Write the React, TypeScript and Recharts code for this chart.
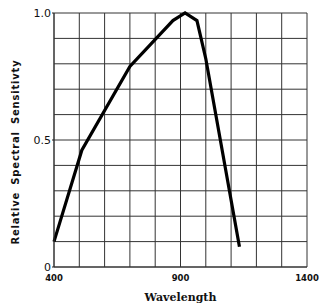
import { LineChart, Line, XAxis, YAxis, CartesianGrid, Label } from 'recharts'

const wavelength = [400, 510, 700, 870, 918, 965, 1000, 1133]
const sensitivity = [0.1, 0.46, 0.79, 0.97, 1.0, 0.97, 0.82, 0.08]

const xTicks = [400, 500, 600, 700, 800, 900, 1000, 1100, 1200, 1300, 1400]
const xTickLabels = ['400', '900', '1400']
const yTicks = [0, 0.1, 0.2, 0.3, 0.4, 0.5, 0.6, 0.7, 0.8, 0.9, 1.0]
const yTickLabels = ['0', '0.5', '1.0']

const data = wavelength.map((w, i) => ({ wavelength: w, value: sensitivity[i] }))

function fmtY(v: number): string {
  if (v === 0) return '0'
  return v.toFixed(1)
}

function YTick(props: any) {
  const { x, y, payload } = props
  const label = fmtY(payload.value)
  if (!yTickLabels.includes(label)) return <g />
  return (
    <g>
      <line x1={x + 1} x2={x + 3} y1={y} y2={y} stroke="#222" />
      <text
        x={x}
        y={y}
        dy="0.36em"
        textAnchor="end"
        fontSize={11}
        fontFamily="DejaVu Sans"
        fill="#111"
      >
        {label}
      </text>
    </g>
  )
}

export default function App() {
  return (
    <div style={{ position: 'absolute', left: 0, top: 0, background: '#fff' }}>
      <LineChart
        width={319}
        height={307}
        data={data}
        margin={{ top: 13, right: 12, bottom: 0, left: 0 }}
      >
        <CartesianGrid stroke="#333" strokeWidth={1} />
        <XAxis
          dataKey="wavelength"
          type="number"
          domain={[400, 1400]}
          ticks={xTicks}
          interval={0}
          height={40}
          tickLine={false}
          tickSize={0}
          tickMargin={8}
          axisLine={{ stroke: '#333' }}
          tickFormatter={(v) => (xTickLabels.includes(String(v)) ? String(v) : '')}
          tick={{ fontSize: 8.5, fontWeight: 'bold', fontFamily: 'DejaVu Sans', fill: '#111' }}
        >
          <Label
            value="Wavelength"
            position="insideBottom"
            offset={6}
            style={{ fontSize: 11, fontWeight: 'bold', fontFamily: 'DejaVu Serif', fill: '#111' }}
          />
        </XAxis>
        <YAxis
          type="number"
          domain={[0, 1]}
          ticks={yTicks}
          interval={0}
          width={54}
          tickLine={false}
          tickSize={2}
          tickMargin={1}
          axisLine={{ stroke: '#333' }}
          tick={<YTick />}
        >
          <Label
            value="Relative Spectral Sensitivty"
            position="center"
            angle={-90}
            dx={-12}
            dy={12}
            style={{
              fontSize: 10,
              fontWeight: 'bold',
              fontFamily: 'DejaVu Sans',
              fill: '#111',
              textAnchor: 'middle',
              letterSpacing: 0.8,
              wordSpacing: 3,
            }}
          />
        </YAxis>
        <Line
          type="linear"
          dataKey="value"
          stroke="#000"
          strokeWidth={3.2}
          dot={false}
          isAnimationActive={false}
        />
      </LineChart>
    </div>
  )
}
